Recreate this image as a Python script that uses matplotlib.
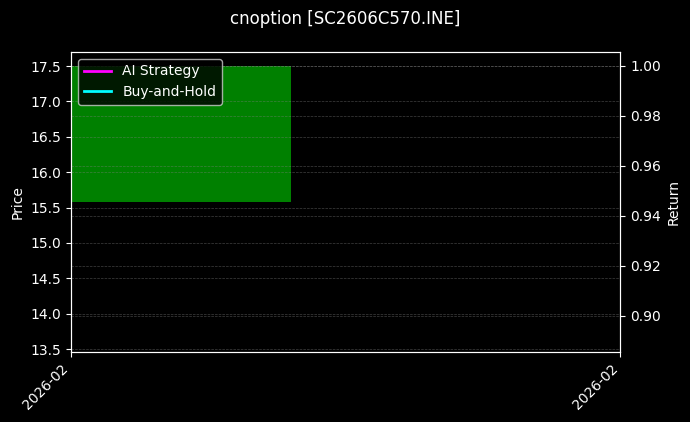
import pandas as pd
import numpy as np
import matplotlib.pyplot as plt
import matplotlib.dates as mdates

# Data
dates = pd.to_datetime(["2026-02-13"])
open_price = [15.58]
close_price = [17.50]
ai_return = [1.0]
bh_return = [1.0]

title = "cnoption [SC2606C570.INE]"

plt.style.use("dark_background")
fig = plt.figure(figsize=(6.9, 4.22), dpi=100)
fig.patch.set_facecolor("black")
ax1 = fig.add_axes([0.103, 0.166, 0.796, 0.711])
ax1.set_facecolor("black")

# candle body
x = mdates.date2num(dates)
body = np.array(close_price) - np.array(open_price)
ax1.bar(x, body, bottom=open_price, width=0.4, align="edge", color="green")
ax1.set_xlim(x[0], x[0] + 1.0)
ax1.set_ylim(13.46, 17.70)
ax1.set_ylabel("Price", color="white")
ax1.grid(True, linestyle="--", linewidth=0.5, color="grey", alpha=0.5)

# return axis
ax2 = ax1.twinx()
ax2.plot(x, ai_return, color="magenta", linewidth=2, label="AI Strategy")
ax2.plot(x, bh_return, color="cyan", linewidth=2, label="Buy-and-Hold")
ax2.set_ylim(0.8856, 1.0056)
ax2.set_ylabel("Return", color="white")
ax2.grid(True, linestyle="--", linewidth=0.5, color="grey", alpha=0.5)
ax2.legend(loc="upper left", facecolor="black", edgecolor="#cccccc", framealpha=0.8)

ax1.set_xticks([x[0], x[0] + 1.0])
ax1.xaxis.set_major_formatter(mdates.DateFormatter("%Y-%m"))
plt.setp(ax1.get_xticklabels(), rotation=45, ha="right")

for ax in (ax1, ax2):
    for sp in ax.spines.values():
        sp.set_color("white")
    ax.tick_params(colors="white")

fig.suptitle(title, color="white", fontsize=12, y=0.977)
fig.savefig("out.png", dpi=100, facecolor="black")
